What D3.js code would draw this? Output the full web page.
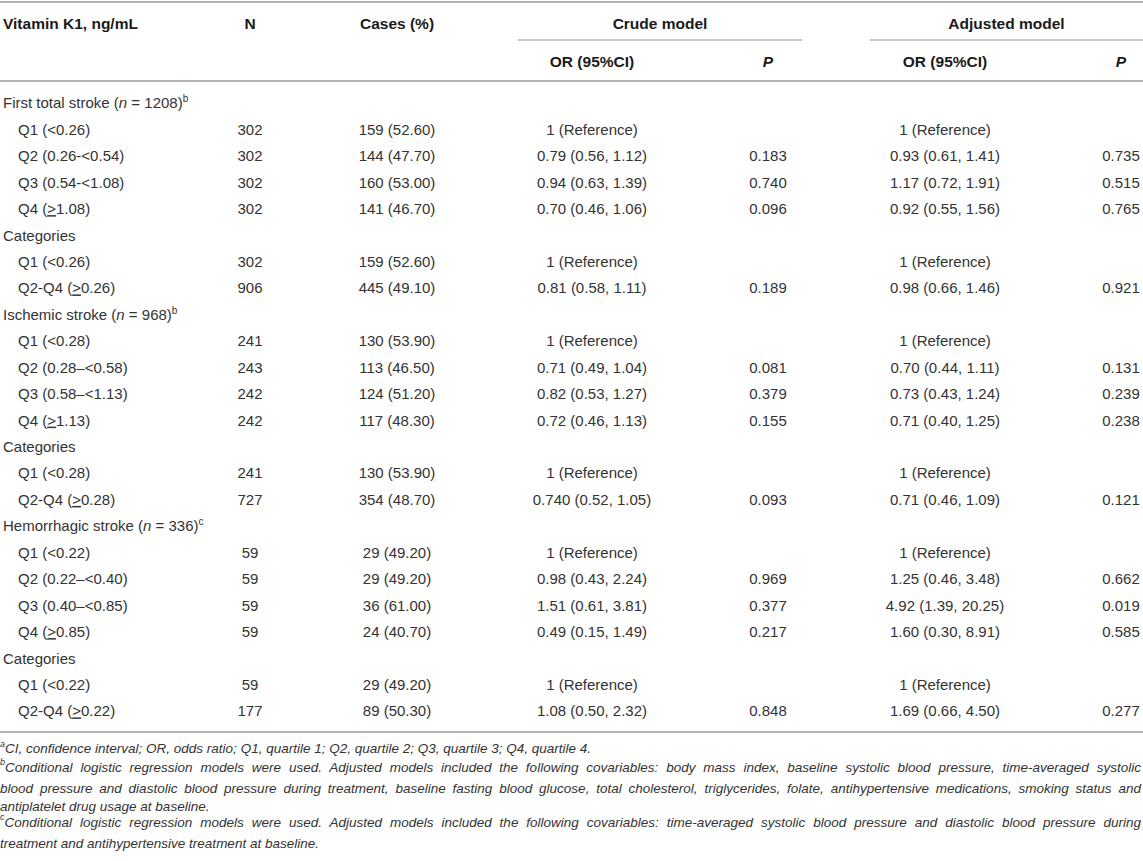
<!DOCTYPE html>
<html>
<head>
<meta charset="utf-8">
<script src="https://cdn.jsdelivr.net/npm/d3@7"></script>
<style>
  body { margin: 0; background: #fff; }
  svg text { font-family: "Liberation Sans", Arial, sans-serif; }
</style>
</head>
<body>
<svg id="chart"></svg>
<script>
var width = 1143,
    height = 861;

// table content
const sectionNames = ["First total stroke", "Ischemic stroke", "Hemorrhagic stroke"];
const sectionN = [1208, 968, 336];
const sectionNotes = ["b", "b", "c"];

// one row per line of the body; kind: section / cat / q
const rowKind = [
    "section", "q", "q", "q", "q", "cat", "q", "q",
    "section", "q", "q", "q", "q", "cat", "q", "q",
    "section", "q", "q", "q", "q", "cat", "q", "q"
];
const rowLabels = [
    "", "Q1 (<0.26)", "Q2 (0.26-<0.54)", "Q3 (0.54-<1.08)", "Q4 (≥1.08)", "Categories", "Q1 (<0.26)", "Q2-Q4 (≥0.26)",
    "", "Q1 (<0.28)", "Q2 (0.28–<0.58)", "Q3 (0.58–<1.13)", "Q4 (≥1.13)", "Categories", "Q1 (<0.28)", "Q2-Q4 (≥0.28)",
    "", "Q1 (<0.22)", "Q2 (0.22–<0.40)", "Q3 (0.40–<0.85)", "Q4 (≥0.85)", "Categories", "Q1 (<0.22)", "Q2-Q4 (≥0.22)"
];
const nValues = [
    "", "302", "302", "302", "302", "", "302", "906",
    "", "241", "243", "242", "242", "", "241", "727",
    "", "59", "59", "59", "59", "", "59", "177"
];
const casesValues = [
    "", "159 (52.60)", "144 (47.70)", "160 (53.00)", "141 (46.70)", "", "159 (52.60)", "445 (49.10)",
    "", "130 (53.90)", "113 (46.50)", "124 (51.20)", "117 (48.30)", "", "130 (53.90)", "354 (48.70)",
    "", "29 (49.20)", "29 (49.20)", "36 (61.00)", "24 (40.70)", "", "29 (49.20)", "89 (50.30)"
];
const crudeOR = [
    "", "1 (Reference)", "0.79 (0.56, 1.12)", "0.94 (0.63, 1.39)", "0.70 (0.46, 1.06)", "", "1 (Reference)", "0.81 (0.58, 1.11)",
    "", "1 (Reference)", "0.71 (0.49, 1.04)", "0.82 (0.53, 1.27)", "0.72 (0.46, 1.13)", "", "1 (Reference)", "0.740 (0.52, 1.05)",
    "", "1 (Reference)", "0.98 (0.43, 2.24)", "1.51 (0.61, 3.81)", "0.49 (0.15, 1.49)", "", "1 (Reference)", "1.08 (0.50, 2.32)"
];
const crudeP = [
    "", "", "0.183", "0.740", "0.096", "", "", "0.189",
    "", "", "0.081", "0.379", "0.155", "", "", "0.093",
    "", "", "0.969", "0.377", "0.217", "", "", "0.848"
];
const adjOR = [
    "", "1 (Reference)", "0.93 (0.61, 1.41)", "1.17 (0.72, 1.91)", "0.92 (0.55, 1.56)", "", "1 (Reference)", "0.98 (0.66, 1.46)",
    "", "1 (Reference)", "0.70 (0.44, 1.11)", "0.73 (0.43, 1.24)", "0.71 (0.40, 1.25)", "", "1 (Reference)", "0.71 (0.46, 1.09)",
    "", "1 (Reference)", "1.25 (0.46, 3.48)", "4.92 (1.39, 20.25)", "1.60 (0.30, 8.91)", "", "1 (Reference)", "1.69 (0.66, 4.50)"
];
const adjP = [
    "", "", "0.735", "0.515", "0.765", "", "", "0.921",
    "", "", "0.131", "0.239", "0.238", "", "", "0.121",
    "", "", "0.662", "0.019", "0.585", "", "", "0.277"
];

const footNotes = [
    { mark: "a", lines: ["CI, confidence interval; OR, odds ratio; Q1, quartile 1; Q2, quartile 2; Q3, quartile 3; Q4, quartile 4."] },
    { mark: "b", lines: [
        "Conditional logistic regression models were used. Adjusted models included the following covariables: body mass index, baseline systolic blood pressure, time-averaged systolic",
        "blood pressure and diastolic blood pressure during treatment, baseline fasting blood glucose, total cholesterol, triglycerides, folate, antihypertensive medications, smoking status and",
        "antiplatelet drug usage at baseline."] },
    { mark: "c", lines: [
        "Conditional logistic regression models were used. Adjusted models included the following covariables: time-averaged systolic blood pressure and diastolic blood pressure during",
        "treatment and antihypertensive treatment at baseline."] }
];

const ruleColor = "#b4b4b4";
const textColor = "#333";

var svg = d3.select("#chart").attr("width", width).attr("height", height);

// column anchors
const colX = d3.scaleOrdinal()
    .domain(["label", "n", "cases", "crudeOR", "crudeP", "adjOR", "adjP"])
    .range([3, 250, 397, 592, 768, 945, 1121]);

// row positions
const y = d3.scalePoint()
    .domain(d3.range(rowKind.length))
    .range([103, 711]);

// --- rules
function rule(x1, x2, yy, w) {
    svg.append("line")
        .attr("x1", x1).attr("x2", x2)
        .attr("y1", yy).attr("y2", yy)
        .attr("stroke", ruleColor)
        .attr("stroke-width", w);
}
rule(0, width, 2, 2);
rule(518, 802, 40, 1.5);
rule(870, width, 40, 1.5);
rule(0, width, 81, 2);
rule(0, width, 732, 2);

// --- header
var header = svg.append("g").attr("font-weight", "bold").attr("font-size", 15.5).attr("fill", "#1a1a1a");
[
    { t: "Vitamin K1, ng/mL", x: colX("label"), y: 23, a: "start" },
    { t: "N", x: colX("n"), y: 23, a: "middle" },
    { t: "Cases (%)", x: colX("cases"), y: 23, a: "middle" },
    { t: "Crude model", x: (518 + 802) / 2, y: 23, a: "middle" },
    { t: "Adjusted model", x: (870 + width) / 2, y: 23, a: "middle" },
    { t: "OR (95%CI)", x: colX("crudeOR"), y: 61, a: "middle" },
    { t: "P", x: colX("crudeP"), y: 61, a: "middle", it: true },
    { t: "OR (95%CI)", x: colX("adjOR"), y: 61, a: "middle" },
    { t: "P", x: colX("adjP"), y: 61, a: "middle", it: true }
].forEach(function (h) {
    header.append("text")
        .attr("x", h.x).attr("y", h.y).attr("dy", "0.36em")
        .attr("text-anchor", h.a)
        .attr("font-style", h.it ? "italic" : null)
        .text(h.t);
});

// --- body
var body = svg.append("g").attr("font-size", 15).attr("fill", textColor);

// adds text with "≥" drawn as an underlined ">" like the source
function addLabel(sel, str) {
    var parts = str.split("≥");
    parts.forEach(function (p, i) {
        if (i > 0) {
            sel.append("tspan").style("text-decoration", "underline").text(">");
        }
        sel.append("tspan").text(p);
    });
}

var sectionIdx = 0;
rowKind.forEach(function (kind, i) {
    var yy = y(i);
    var lbl = body.append("text")
        .attr("x", kind == "q" ? 18 : colX("label"))
        .attr("y", yy).attr("dy", "0.36em");
    if (kind == "section") {
        var s = sectionIdx++;
        lbl.append("tspan").text(sectionNames[s] + " (");
        lbl.append("tspan").attr("font-style", "italic").text("n");
        lbl.append("tspan").text(" = " + sectionN[s] + ")");
        lbl.append("tspan").attr("font-size", 10).attr("dy", "-0.6em").text(sectionNotes[s]);
    } else {
        addLabel(lbl, rowLabels[i]);
    }

    [["n", nValues], ["cases", casesValues], ["crudeOR", crudeOR], ["crudeP", crudeP], ["adjOR", adjOR], ["adjP", adjP]]
        .forEach(function (c) {
            var v = c[1][i];
            if (!v) return;
            body.append("text")
                .attr("x", colX(c[0]))
                .attr("y", yy).attr("dy", "0.36em")
                .attr("text-anchor", "middle")
                .text(v);
        });
});

// --- footnotes, justified like the journal page
var notes = svg.append("g").attr("font-size", 13.5).attr("font-style", "italic").attr("fill", textColor);
var noteY = d3.scaleLinear().domain([0, 5]).range([751, 843]);
var li = 0;
footNotes.forEach(function (fn) {
    fn.lines.forEach(function (line, k) {
        var t = notes.append("text")
            .attr("x", 0)
            .attr("y", noteY(li)).attr("dy", "0.36em");
        if (k == 0) {
            t.append("tspan").attr("font-size", 9).attr("dy", "-0.5em").text(fn.mark);
            t.append("tspan").attr("dy", "0.5em").text(line);
        } else {
            t.append("tspan").text(line);
        }
        // stretch word gaps on every line but the last of a note
        if (k < fn.lines.length - 1) {
            var natural = t.node().getComputedTextLength();
            var gaps = line.split(" ").length - 1;
            var extra = (width - 2 - natural) / gaps;
            t.attr("word-spacing", extra);
        }
        li++;
    });
});
</script>
</body>
</html>
